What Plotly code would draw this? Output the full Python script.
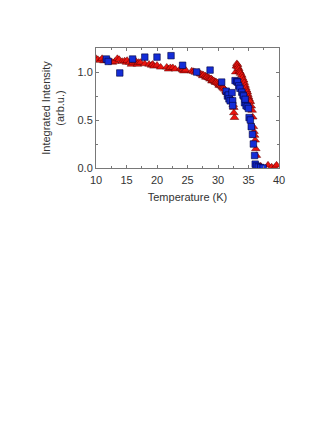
import plotly.graph_objects as go

# blue squares (temperature K, integrated intensity)
blue_t = [11.7, 12.0, 13.9, 16.0, 18.0, 20.0, 22.3, 24.2, 26.5, 28.7,
          30.6, 31.35, 31.55, 31.7, 31.8, 32.0, 32.3, 32.4, 32.4, 32.8,
          33.1, 33.2, 33.4, 33.6, 33.9, 34.1, 34.2, 34.35, 34.45, 34.6,
          34.8, 35.0, 35.1, 35.3, 35.45, 35.65, 35.8, 36.0, 36.1, 36.3,
          36.6, 37.0, 37.4]
blue_i = [1.135, 1.11, 0.99, 1.135, 1.155, 1.155, 1.17, 1.07, 1.0, 1.02,
          0.895, 0.80, 0.75, 0.76, 0.72, 0.70, 0.785, 0.70, 0.65, 0.91,
          0.90, 0.895, 0.855, 0.83, 0.79, 0.76, 0.75, 0.68, 0.715, 0.65,
          0.64, 0.62, 0.525, 0.50, 0.43, 0.35, 0.25, 0.13, 0.04, 0.02,
          0.01, 0.005, 0.0]

# red triangles
red_t = [10.0, 10.3, 10.7, 11.0, 11.3, 11.6, 12.1, 12.4, 12.7, 13.1,
         13.5, 13.8, 14.3, 14.7, 15.0, 15.1, 15.5, 15.8, 16.1, 16.5,
         16.8, 17.0, 17.3, 18.0, 18.7, 19.1, 19.3, 19.5, 20.0, 20.6,
         21.6, 21.9, 22.2, 22.6, 23.0, 23.9, 24.2, 24.4, 24.7, 25.7,
         26.0, 26.3, 26.8, 27.1, 27.35, 27.5, 27.6, 27.9, 28.0, 28.2,
         28.4, 28.6, 28.7, 28.9, 29.0, 29.1, 29.3, 29.5, 29.6, 29.7,
         29.9, 30.1, 30.2, 30.3, 30.5, 30.7, 30.8, 30.9, 31.1, 31.3,
         31.4, 31.5, 31.7, 31.9, 32.1, 32.3, 32.5, 32.6, 32.6, 32.7,
         32.9, 33.0, 33.1, 33.2, 33.25, 33.4, 33.5, 33.6, 33.7, 33.9,
         34.0, 34.2, 34.3, 34.45, 34.55, 34.7, 34.8, 34.9, 35.0, 35.1,
         35.2, 35.3, 35.45, 35.6, 35.7, 35.8, 35.9, 36.0, 36.1, 36.2,
         36.3, 36.4, 37.0, 38.2, 38.8, 39.3, 39.6]
red_i = [1.14, 1.13, 1.12, 1.14, 1.115, 1.12, 1.12, 1.11, 1.10, 1.11,
         1.14, 1.13, 1.11, 1.115, 1.10, 1.12, 1.10, 1.08, 1.10, 1.115,
         1.08, 1.10, 1.10, 1.085, 1.08, 1.07, 1.08, 1.06, 1.07, 1.05,
         1.05, 1.03, 1.045, 1.045, 1.03, 1.04, 1.02, 1.01, 1.02, 1.01,
         1.005, 0.995, 0.995, 0.98, 0.975, 0.96, 0.97, 0.96, 0.945, 0.95,
         0.94, 0.935, 0.925, 0.93, 0.905, 0.915, 0.91, 0.90, 0.89, 0.895,
         0.885, 0.875, 0.86, 0.865, 0.855, 0.845, 0.84, 0.83, 0.82, 0.80,
         0.79, 0.785, 0.765, 0.745, 0.72, 0.695, 0.66, 0.63, 0.575, 0.525,
         1.0, 1.06, 1.087, 1.075, 1.05, 1.035, 1.01, 1.0, 0.985, 0.965,
         0.94, 0.915, 0.89, 0.86, 0.835, 0.81, 0.79, 0.765, 0.74, 0.72,
         0.70, 0.69, 0.645, 0.60, 0.53, 0.43, 0.38, 0.34, 0.29, 0.20,
         0.13, 0.03, 0.02, 0.03, 0.01, 0.005, 0.03]

fig = go.Figure()
fig.add_trace(go.Scatter(
    x=red_t, y=red_i, mode="markers", name="red",
    marker=dict(symbol="triangle-up", size=7.5, color="rgb(235,20,15)",
                line=dict(color="rgb(90,0,0)", width=0.5))
))
fig.add_trace(go.Scatter(
    x=blue_t, y=blue_i, mode="markers", name="blue",
    marker=dict(symbol="square", size=6.5, color="rgb(20,45,215)",
                line=dict(color="rgb(0,0,60)", width=0.6))
))

axis_style = dict(
    showline=True, linecolor="rgb(120,120,120)", linewidth=1, mirror="ticks",
    ticks="inside", ticklen=3, tickcolor="rgb(120,120,120)",
    showgrid=False, zeroline=False,
    tickfont=dict(family="Liberation Sans, Arial", size=11, color="#333"),
)

fig.update_xaxes(
    range=[10, 40], tickvals=[10, 15, 20, 25, 30, 35, 40],
    minor=dict(dtick=2.5, ticks="inside", ticklen=2, tickcolor="rgb(120,120,120)"),
    ticklabelstandoff=2,
    title=dict(text="Temperature (K)", standoff=8,
               font=dict(family="Liberation Sans, Arial", size=11, color="#333")),
    **axis_style
)
fig.update_yaxes(
    range=[0, 1.25], tickvals=[0, 0.5, 1.0], ticktext=["0.0", "0.5", "1.0"],
    minor=dict(dtick=0.25, ticks="inside", ticklen=2, tickcolor="rgb(120,120,120)"),
    title=dict(text="Integrated Intensity<br>(arb.u.)", standoff=10,
               font=dict(family="Liberation Sans, Arial", size=11, color="#333")),
    **axis_style
)

fig.update_layout(
    width=332, height=430,
    margin=dict(l=88, r=61, t=40, b=270),
    paper_bgcolor="white", plot_bgcolor="white",
    showlegend=False,
)

fig.write_html("out.html")
